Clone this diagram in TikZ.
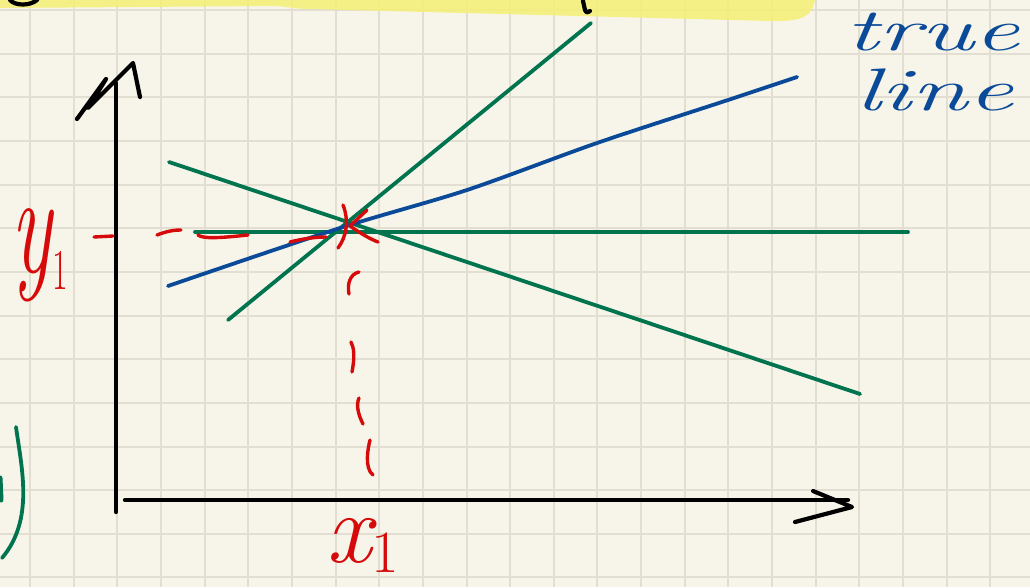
\documentclass[tikz,border=0pt]{standalone}
\usepackage{fontspec}
\definecolor{paper}{HTML}{F7F5E9}
\definecolor{gridc}{HTML}{E2DFD2}
\definecolor{hl}{HTML}{F5F075}
\definecolor{pgreen}{HTML}{00734F}
\definecolor{pblue}{HTML}{0B4A98}
\definecolor{pred}{HTML}{D60A0A}
\begin{document}
\begin{tikzpicture}[x=1pt,y=-1pt,
  ink/.style={line cap=round,line join=round},
  axis/.style={ink,black,line width=4.2pt},
  gline/.style={ink,pgreen,line width=3.8pt},
  bline/.style={ink,pblue,line width=3.8pt},
  rmark/.style={ink,pred,line width=3.4pt},
  lbl/.style={inner sep=0pt,outer sep=0pt}]
\useasboundingbox (0,0) rectangle (1030,587);
\fill[paper] (0,0) rectangle (1030,587);
\foreach \i in {0,...,23} \draw[gridc,line width=2pt] ({30+43.65*\i},0) -- ({30+43.65*\i},587);
\foreach \i in {0,...,13} \draw[gridc,line width=2pt] (0,{10+43.65*\i}) -- (1030,{10+43.65*\i});
% highlighter
\fill[hl,opacity=0.85] (0,0) -- (0,8) -- (272,6) .. controls (285,6) and (292,9) .. (310,9)
  -- (770,21) .. controls (805,22) and (812,15) .. (815,0) -- cycle;
% black marks at top
\draw[axis] (10,0) .. controls (15,6) and (30,6) .. (37,0);
\draw[axis] (583,1) -- (585,10) .. controls (586,13) and (589,13) .. (590,11);
% axes
\draw[axis] (116,83) -- (116,512);
\draw[axis] (77,119) -- (106,79) -- (88,108) -- (133,63) -- (140,97);
\draw[axis] (125,500) -- (848,500);
\draw[axis] (813,491) -- (852,507) -- (795,522);
% green lines
\draw[gline] (591,23) -- (228,320);
\draw[gline] (195,232) -- (908,232);
\draw[gline] (169,162) -- (860,394);
% blue true line
\draw[bline] plot[smooth] coordinates {(168,286) (340,228) (467,190) (597,143) (728,100) (797,77)};
% green bracket at left
\draw[gline] (16,427) .. controls (22,470) and (34,520) .. (2,558);
\draw[pgreen,line width=5pt,line cap=round] (0,478) -- (1,500);
% red marks
\draw[rmark] (94,237) -- (113,236);
\draw[rmark] (157,235) .. controls (165,232) and (172,230) .. (181,230);
\draw[rmark] (198,235) .. controls (203,239) and (220,238) .. (248,235);
\draw[rmark] (290,242) .. controls (302,239) and (314,237) .. (326,237);
\draw[rmark] (343,205) .. controls (349,220) and (347,236) .. (338,248);
\draw[rmark] (367,210) -- (350,226) .. controls (360,233) and (370,239) .. (378,242);
\draw[rmark] (359,272) .. controls (350,274) and (347,284) .. (349,294);
\draw[rmark] (351,342) .. controls (354,348) and (355,356) .. (352,372);
\draw[rmark] (359,398) .. controls (356,405) and (358,414) .. (363,424);
\draw[rmark] (370,440) .. controls (368,448) and (364,468) .. (373,475);
% labels
\node[lbl,pred,anchor=base west] (y1) at (12,272) {\scalebox{0.85}[1.45]{\fontsize{100}{100}\selectfont\itshape y\upshape\raisebox{-12pt}{\fontsize{40}{40}\selectfont 1}}};
\node[lbl,pred,anchor=base west] (x1) at (326,562) {\fontsize{100}{100}\selectfont\itshape x\upshape\raisebox{-10pt}{\fontsize{60}{60}\selectfont 1}};
\node[lbl,pblue,anchor=base west] (tl1) at (845,50) {\fontsize{60}{60}\selectfont\itshape\scalebox{1.7}[1]{true}};
\node[lbl,pblue,anchor=base west] (tl2) at (855,110) {\fontsize{60}{60}\selectfont\itshape\scalebox{1.7}[1]{line}};
\end{tikzpicture}
\end{document}
